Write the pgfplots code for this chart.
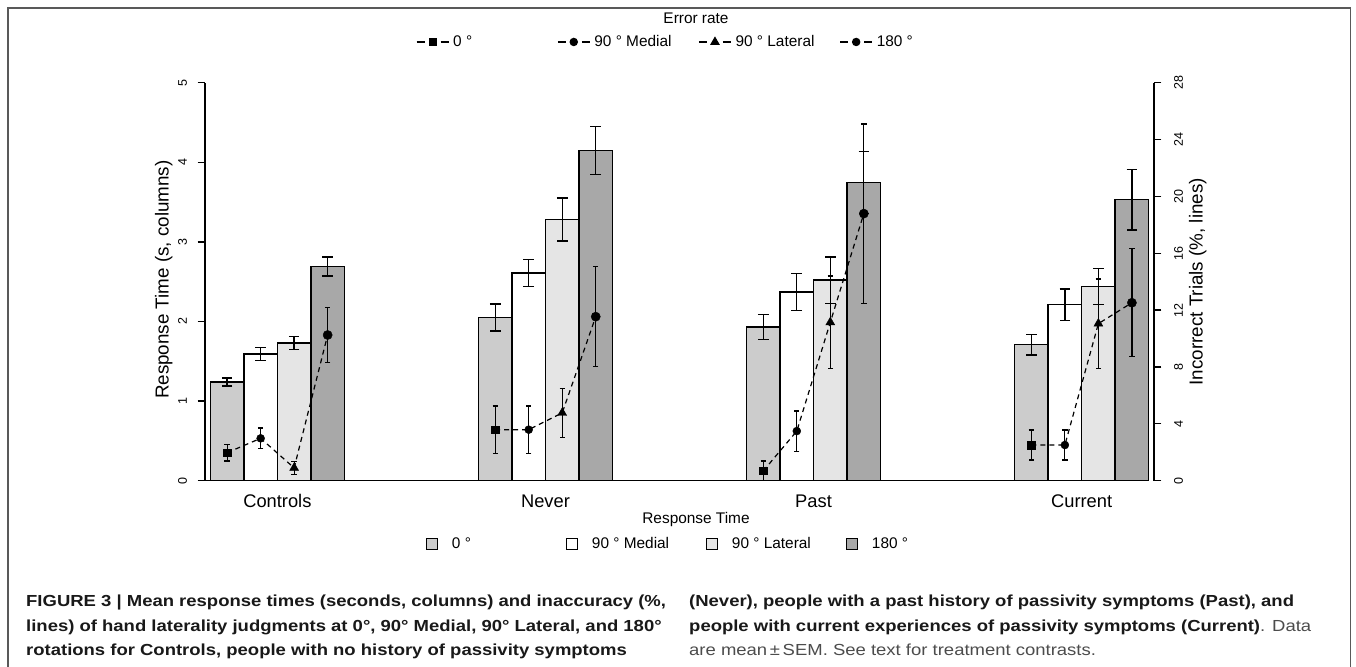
\documentclass[border=0pt]{standalone}
\usepackage{pgfplots}
\pgfplotsset{compat=1.18}
\usepackage{fontspec}
\setmainfont{Liberation Sans}
\newfontfamily\capfont[FakeStretch=1.155]{Liberation Sans}
\definecolor{gA}{gray}{0.80}
\definecolor{gB}{gray}{1.00}
\definecolor{gC}{gray}{0.90}
\definecolor{gD}{gray}{0.66}
\pgfplotsset{
  rtbar/.style={ybar, bar width=1, bar shift=0, draw=black, line width=1.3pt, forget plot,
    error bars/y dir=both, error bars/y explicit,
    error bars/error bar style={line width=1.3pt, solid, black},
    error bars/error mark options={line width=1.3pt, mark size=5.3pt, rotate=90, black}},
  ermark/.style={only marks, black, forget plot, mark options={solid, fill=black, line width=0.4pt},
    error bars/y dir=both, error bars/y explicit,
    error bars/error bar style={line width=1.2pt, solid, black},
    error bars/error mark options={line width=1.2pt, mark size=2.7pt, rotate=90, black}},
  erline/.style={black, line width=1.2pt, dash pattern=on 5pt off 4pt, forget plot},
}
\begin{document}
\begin{tikzpicture}[x=1pt,y=1pt]
\useasboundingbox (0,0) rectangle (1356,666);
\fill[white] (0,0) rectangle (1356,666);
\draw[line width=1.3pt, black!65] (8,-2) -- (8,658) -- (1350.7,658) -- (1350.7,-2);

% ---------------- Response time (bars) ----------------
\begin{axis}[
  at={(205pt,185.3pt)}, anchor=south west, scale only axis,
  width=949pt, height=398pt,
  xmin=-0.16, xmax=28.16, ymin=0, ymax=5,
  clip=false,
  axis x line*=bottom, axis y line*=left,
  axis line style={-, line width=1.3pt, black},
  x axis line style={draw=none},
  xtick={2,10,18,26}, xticklabels={Controls,Never,Past,Current},
  xtick style={draw=none},
  xticklabel style={font=\fontsize{18.3}{21}\selectfont, anchor=base, yshift=-20pt},
  ytick={0,1,2,3,4,5},
  tick align=outside, major tick length=7.3pt,
  ytick style={line width=1.3pt, black},
  /pgf/number format/assume math mode=true,
  yticklabel style={font=\fontsize{12.5}{14}\selectfont, xshift=-10.9pt, rotate=90, anchor=base},
  ylabel={Response Time (s, columns)},
  every axis y label/.style={at={(axis description cs:-0.0435,0.505)}, rotate=90, anchor=center, font=\fontsize{18.8}{22}\selectfont},
  legend columns=4,
  legend image code/.code={\path[draw=none, fill=none] (0pt,0pt) -- (32pt,0pt); \draw[#1] (10.25pt,-5.75pt) rectangle (21.75pt,5.75pt);},
  legend style={at={(0.2223,-0.159)}, anchor=west, draw=none, fill=none,
    inner sep=0pt, outer sep=0pt, column sep=0pt, row sep=0pt,
    font=\fontsize{15.4}{18}\selectfont, nodes={inner sep=0pt, outer sep=0pt},
    cells={anchor=west},
    /tikz/every odd column/.append style={column sep=4pt}},
]
\addplot[rtbar, fill=gA] coordinates {(0.5,1.24) +- (0,0.05) (8.5,2.05) +- (0,0.17) (16.5,1.93) +- (0,0.16) (24.5,1.71) +- (0,0.13)};
\addplot[rtbar, fill=gB] coordinates {(1.5,1.59) +- (0,0.08) (9.5,2.61) +- (0,0.17) (17.5,2.37) +- (0,0.23) (25.5,2.21) +- (0,0.20)};
\addplot[rtbar, fill=gC] coordinates {(2.5,1.73) +- (0,0.08) (10.5,3.28) +- (0,0.27) (18.5,2.52) +- (0,0.29) (26.5,2.44) +- (0,0.23)};
\addplot[rtbar, fill=gD] coordinates {(3.5,2.69) +- (0,0.12) (11.5,4.15) +- (0,0.30) (19.5,3.75) +- (0,0.39) (27.5,3.53) +- (0,0.38)};
\draw[line width=1.3pt, black] (axis cs:-0.16,0) -- (axis cs:28,0);
\addlegendimage{fill=gA, draw=black, line width=1.1pt}
\addlegendentry{\makebox[104pt][l]{0 °}}
\addlegendimage{fill=gB, draw=black, line width=1.1pt}
\addlegendentry{\makebox[104pt][l]{90 ° Medial}}
\addlegendimage{fill=gC, draw=black, line width=1.1pt}
\addlegendentry{\makebox[104pt][l]{90 ° Lateral}}
\addlegendimage{fill=gD, draw=black, line width=1.1pt}
\addlegendentry{\makebox[104pt][l]{180 °}}
\end{axis}

% ---------------- Error rate (lines) ----------------
\begin{axis}[
  at={(205pt,185.3pt)}, anchor=south west, scale only axis,
  width=949pt, height=398pt,
  xmin=-0.16, xmax=28.16, ymin=0, ymax=28,
  clip=false,
  axis x line=none, axis y line*=right,
  axis line style={-, line width=1.3pt, black},
  xtick=\empty,
  ytick={0,4,...,28},
  tick align=outside, major tick length=7.3pt,
  ytick style={line width=1.3pt, black},
  /pgf/number format/assume math mode=true,
  yticklabel style={font=\fontsize{12.5}{14}\selectfont, xshift=21.5pt, rotate=90, anchor=base},
  ylabel={Incorrect Trials (\%, lines)},
  every axis y label/.style={at={(axis description cs:1.046,0.5)}, rotate=90, anchor=center, font=\fontsize{18.8}{22}\selectfont},
  legend columns=4,
  legend image code/.code={\draw[mark repeat=2, mark phase=2, #1] plot coordinates {(0pt,0pt) (16pt,0pt) (32pt,0pt)};},
  legend style={at={(0.2223,1.1023)}, anchor=west, draw=none, fill=none,
    inner sep=0pt, outer sep=0pt, column sep=0pt, row sep=0pt,
    font=\fontsize{15.4}{18}\selectfont, nodes={inner sep=0pt, outer sep=0pt},
    cells={anchor=west},
    /tikz/every odd column/.append style={column sep=4pt}},
]
% dashed connecting lines, one per group
\addplot[erline] coordinates {(0.5,1.97) (1.5,2.98) (2.5,0.90) (3.5,10.25)};
\addplot[erline] coordinates {(8.5,3.59) (9.5,3.59) (10.5,4.77) (11.5,11.54)};
\addplot[erline] coordinates {(16.5,0.69) (17.5,3.49) (18.5,11.14) (19.5,18.79)};
\addplot[erline] coordinates {(24.5,2.51) (25.5,2.51) (26.5,11.05) (27.5,12.52)};
% marks with error bars, one per rotation
\addplot[ermark, mark=square*, mark size=3.8pt] coordinates {(0.5,1.97) +- (0,0.59) (8.5,3.59) +- (0,1.66) (16.5,0.69) +- (0,0.69) (24.5,2.51) +- (0,1.06)};
\addplot[ermark, mark=*, mark size=4pt] coordinates {(1.5,2.98) +- (0,0.73) (9.5,3.59) +- (0,1.66) (17.5,3.49) +- (0,1.41) (25.5,2.51) +- (0,1.06)};
\addplot[ermark, mark=triangle*, mark size=5.2pt] coordinates {(2.5,0.90) +- (0,0.47) (10.5,4.77) +- (0,1.74) (18.5,11.14) +- (0,3.26) (26.5,11.05) +- (0,3.14)};
\addplot[ermark, mark=*, mark size=4.6pt] coordinates {(3.5,10.25) +- (0,1.92) (11.5,11.54) +- (0,3.52) (19.5,18.79) +- (0,6.30) (27.5,12.52) +- (0,3.81)};
\addlegendimage{black, line width=1.2pt, dash pattern=on 8pt off 16pt, mark=square*, mark size=3.4pt, mark options={solid}}
\addlegendentry{\makebox[104pt][l]{0 °}}
\addlegendimage{black, line width=1.2pt, dash pattern=on 8pt off 16pt, mark=*, mark size=3.6pt, mark options={solid}}
\addlegendentry{\makebox[104pt][l]{90 ° Medial}}
\addlegendimage{black, line width=1.2pt, dash pattern=on 8pt off 16pt, mark=triangle*, mark size=4.4pt, mark options={solid}}
\addlegendentry{\makebox[104pt][l]{90 ° Lateral}}
\addlegendimage{black, line width=1.2pt, dash pattern=on 8pt off 16pt, mark=*, mark size=3.6pt, mark options={solid}}
\addlegendentry{\makebox[104pt][l]{180 °}}
\end{axis}

% legend titles
\node[font=\fontsize{15.4}{18}\selectfont] at (696,648) {Error rate};
\node[font=\fontsize{15.4}{18}\selectfont] at (696,146) {Response Time};

% caption
\begin{scope}[every node/.style={anchor=base west, inner sep=0pt, font=\capfont\fontsize{16}{19}\selectfont}]
\node[text=black!90] at (26,59) {\bfseries FIGURE 3 | Mean response times (seconds, columns) and inaccuracy (\%,};
\node[text=black!90] at (26,34.5) {\bfseries lines) of hand laterality judgments at 0°, 90° Medial, 90° Lateral, and 180°};
\node[text=black!90] at (26,10) {\bfseries rotations for Controls, people with no history of passivity symptoms};
\node[text=black!90] at (689,59) {\bfseries (Never), people with a past history of passivity symptoms (Past), and};
\node[text=black!90] at (689,34.5) {{\bfseries people with current experiences of passivity symptoms (Current)}\textcolor{black!70}{. Data}};
\node[text=black!70] at (689,10) {are mean\,±\,SEM. See text for treatment contrasts.};
\end{scope}
\end{tikzpicture}
\end{document}
